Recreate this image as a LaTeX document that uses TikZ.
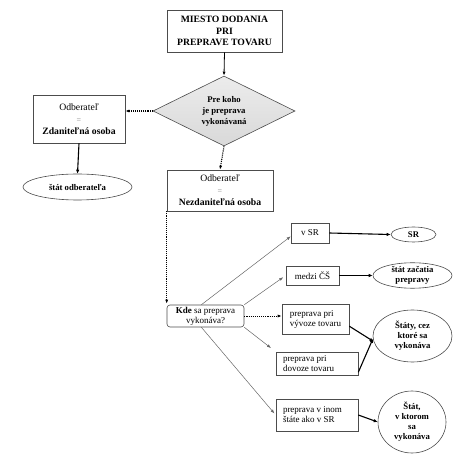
\documentclass[tikz,border=0pt]{standalone}
\usepackage{fontspec}
\setmainfont{Liberation Serif}
\usetikzlibrary{shapes.geometric,arrows.meta}
\begin{document}
\begin{tikzpicture}[x=1pt,y=-1pt,
 box/.style={draw=black!70,line width=0.6pt,align=center,inner sep=0pt,font=\fontsize{9}{10}\selectfont},
 lbox/.style={box,align=left},
 ell/.style={ellipse,draw=black!70,line width=0.6pt,align=center,inner sep=0pt,font=\bfseries\fontsize{8.7}{10}\selectfont},
 thinarr/.style={draw=black!60,line width=0.5pt,-{Latex[length=4pt,width=3pt]}},
 thickarr/.style={line width=1.1pt,-{Latex[length=4pt,width=3.5pt]}},
 dotarr/.style={line width=1.1pt,densely dotted,-{Latex[length=4pt,width=3pt]}}]
\useasboundingbox (0,0) rectangle (474,470);
\node[box,minimum width=115pt,minimum height=42pt,font=\bfseries\fontsize{9.7}{11.7}\selectfont] (top) at (224.5,31) {MIESTO DODANIA\\PRI\\PREPRAVE TOVARU};
\node[diamond,draw=black!70,line width=0.6pt,minimum width=142pt,minimum height=70pt,inner sep=0pt,aspect=2,
  top color=gray!15,bottom color=gray!30,align=center,font=\bfseries\fontsize{8.7}{11}\selectfont] (dia) at (224,111) {Pre koho\\je preprava\\vykonávaná};
\node[box,minimum width=92pt,minimum height=48pt,font=\fontsize{9.7}{12}\selectfont] (zd) at (79,119) {Odberateľ\\{\color{black!50}\footnotesize=}\\\textbf{Zdaniteľná osoba}};
\node[ell,minimum width=109pt,minimum height=26pt] (so) at (77.5,187) {štát odberateľa};
\node[box,minimum width=106pt,minimum height=41pt,font=\fontsize{9.7}{12}\selectfont] (nz) at (220,190.5) {Odberateľ\\{\color{black!50}\footnotesize=}\\\textbf{Nezdaniteľná osoba}};
\node[box,rounded corners=3pt,minimum width=77pt,minimum height=22pt] (kde) at (205.5,316) {\textbf{Kde} sa preprava\\vykonáva?};
\node[box,minimum width=38pt,minimum height=20pt] (vsr) at (310,233) {v SR};
\node[ell,minimum width=45pt,minimum height=15pt] (sr) at (413.5,234.5) {SR};
\node[box,minimum width=53pt,minimum height=19pt] (mcs) at (312.5,275.5) {medzi ČŠ};
\node[ell,minimum width=79pt,minimum height=25pt] (zac) at (412.5,275.5) {štát začatia\\prepravy};
\node[lbox,minimum width=67pt,minimum height=30pt] (vyv) at (315.5,319) {preprava pri\\vývoze tovaru};
\node[lbox,minimum width=82pt,minimum height=23pt] (dov) at (317,363.5) {\makebox[68pt][l]{preprava pri}\\\makebox[68pt][l]{dovoze tovaru}};
\node[ell,minimum width=79pt,minimum height=52pt] (cez) at (412.5,336) {Štáty, cez\\ktoré sa\\vykonáva};
\node[lbox,minimum width=82pt,minimum height=32pt] (ino) at (317,415) {\makebox[68pt][l]{preprava v inom}\\\makebox[68pt][l]{štáte ako v SR}};
\node[ell,minimum width=68pt,minimum height=62pt] (kto) at (412,422) {Štát,\\v ktorom\\sa\\vykonáva};
% connectors
\draw[line width=0.8pt,-{Latex[length=4pt,width=3pt]}] (top.south) -- (dia.north);
\draw[dotarr] (dia.west) -- (dia.west -| zd.east);
\draw[dotarr] (dia.south) -- (nz.north);
\draw[thickarr] (zd.south) -- (so.north);
\draw[dotarr] (nz.south west) -- ([yshift=1pt]nz.south west |- kde.north);
\draw[thinarr] (kde.110) -- (vsr.190);
\draw[thinarr,shorten >=3pt] (kde.north east) -- (mcs.west);
\draw[dotarr,line width=0.8pt] (kde.east) -- (kde.east -| vyv.west);
\draw[thinarr,shorten >=6pt] (kde.south east) -- (dov.north west);
\draw[thinarr,shorten >=2pt] (kde.250) -- (ino.west);
\draw[thickarr] (vsr.east) -- (sr.west);
\draw[thickarr] (mcs.east) -- (zac.west);
\draw[thickarr] (vyv.-12) -- (cez.188);
\draw[thickarr] (dov.-12) -- (cez.184);
\draw[thickarr] (ino.east) -- (kto.west);
\end{tikzpicture}
\end{document}
